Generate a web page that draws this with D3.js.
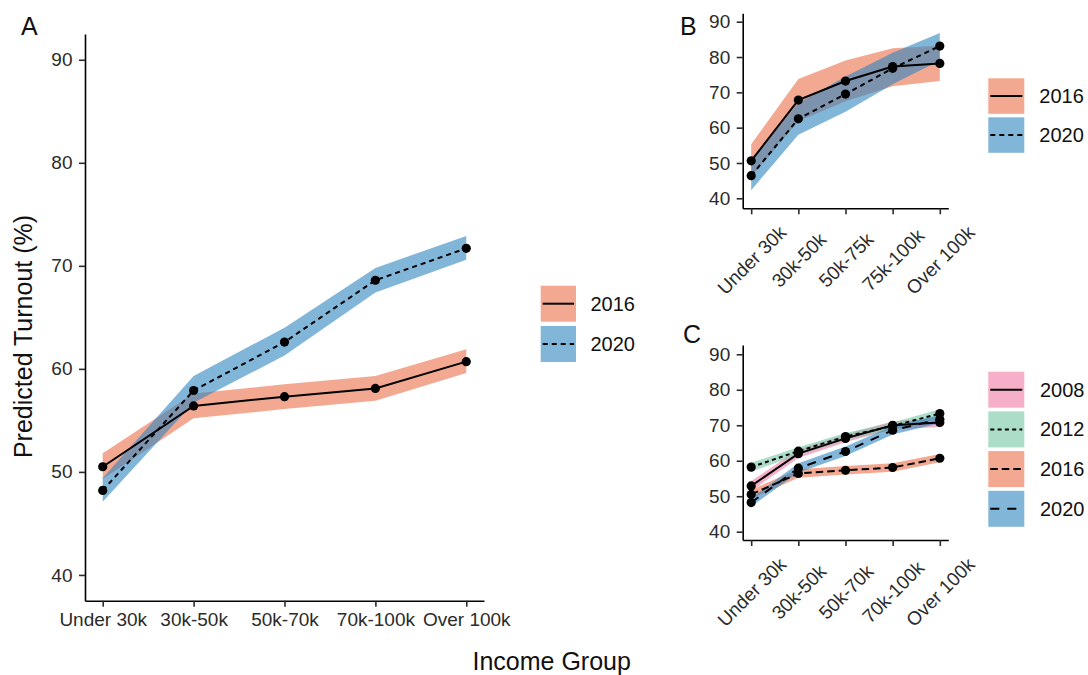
<!DOCTYPE html>
<html><head><meta charset="utf-8">
<script src="https://cdn.jsdelivr.net/npm/d3@7"></script>
<style>
body{margin:0;background:#fff;}
svg{display:block;font-family:"Liberation Sans",Arial,Helvetica,sans-serif;}
</style></head><body>
<svg id="chart" width="1088" height="675"></svg>
<script>
// ---------------- DATA ----------------
const incomeA = ["Under 30k","30k-50k","50k-70k","70k-100k","Over 100k"];
const incomeB = ["Under 30k","30k-50k","50k-75k","75k-100k","Over 100k"];
const yTicks = [40,50,60,70,80,90];
const yearsAB = ["2016","2020"];
const yearsC = ["2008","2012","2016","2020"];

// Panel A (also reused for 2016 / 2020 in panel C)
const a2016   = [50.5,56.4,57.3,58.1,60.7];
const a2016Lo = [49.3,55.2,56.1,56.9,59.6];
const a2016Hi = [51.8,57.6,58.5,59.3,61.9];
const a2020   = [48.2,57.9,62.6,68.6,71.7];
const a2020Lo = [47.1,56.7,61.3,67.4,70.6];
const a2020Hi = [49.4,59.3,64.0,69.8,72.9];

// Panel B
const b2016   = [50.6,67.8,73.2,77.3,78.2];
const b2016Lo = [46.0,61.8,67.5,71.7,73.2];
const b2016Hi = [55.3,73.8,79.0,82.5,83.2];
const b2020   = [46.4,62.5,69.5,76.8,83.1];
const b2020Lo = [42.3,58.0,64.5,72.3,79.0];
const b2020Hi = [50.5,67.0,74.5,81.2,86.8];

// Panel C (2008, 2012)
const c2008   = [52.9,62.0,66.3,70.0,70.8];
const c2008Lo = [51.5,60.8,65.2,68.9,69.5];
const c2008Hi = [54.3,63.2,67.4,71.1,72.1];
const c2012   = [58.2,62.7,66.8,69.8,73.3];
const c2012Lo = [57.0,61.6,65.8,68.8,72.1];
const c2012Hi = [59.4,63.8,67.8,70.8,74.5];

// ---------------- STYLE ----------------
const colors = {"2008":"#F07AA5","2012":"#74C7A5","2016":"#EB6F47","2020":"#2F86C0"};
const alpha = 0.6;
const dashAB = {"2016":null,"2020":"5,4"};
const dashC = {"2008":null,"2012":"4,3.3","2016":"7.5,4","2020":"9,8"};
const textCol = "#2b2b2b";

const svg = d3.select("#chart");

function drawPanel(opt) {
  const x = d3.scalePoint().domain(opt.cats).range([opt.left, opt.right]).padding(opt.pad);
  const y = d3.scaleLinear().domain(opt.yDomain).range([opt.bottom, opt.top]);
  const g = svg.append("g");

  // axes
  const xa = g.append("g").attr("transform", `translate(0,${opt.bottom})`)
    .call(d3.axisBottom(x).tickSize(6).tickSizeOuter(0).tickPadding(6));
  const ya = g.append("g").attr("transform", `translate(${opt.left},0)`)
    .call(d3.axisLeft(y).tickValues(yTicks).tickSize(6).tickSizeOuter(0).tickPadding(6.5));
  [xa, ya].forEach(a => {
    a.select(".domain").attr("stroke", "#000").attr("stroke-width", 1.6);
    a.selectAll(".tick line").attr("stroke", textCol).attr("stroke-width", 1.6);
    a.selectAll(".tick text").attr("fill", textCol).attr("font-size", 19)
      .attr("font-family", '"Liberation Sans",Arial,sans-serif');
  });
  if (opt.rotate) {
    xa.selectAll(".tick text").attr("y", 0).attr("dy", "0.35em")
      .attr("text-anchor", "middle")
      .attr("transform", `translate(0,${opt.rotOffset}) rotate(-45)`);
  }

  const rows = s => opt.cats.map((c, i) => ({c, v: s.v[i], lo: s.lo[i], hi: s.hi[i]}));
  // ribbons
  opt.series.forEach(s => {
    g.append("path").datum(rows(s))
      .attr("d", d3.area().x(d => x(d.c)).y0(d => y(d.lo)).y1(d => y(d.hi)))
      .attr("fill", colors[s.year]).attr("fill-opacity", alpha);
  });
  // lines
  opt.series.forEach(s => {
    g.append("path").datum(rows(s))
      .attr("d", d3.line().x(d => x(d.c)).y(d => y(d.v)))
      .attr("fill", "none").attr("stroke", "#000").attr("stroke-width", 2)
      .attr("stroke-dasharray", opt.dash[s.year]);
  });
  // points
  opt.series.forEach(s => {
    g.selectAll(null).data(rows(s)).enter().append("circle")
      .attr("cx", d => x(d.c)).attr("cy", d => y(d.v)).attr("r", 4.6).attr("fill", "#000");
  });

  // legend
  const lg = svg.append("g");
  opt.legend.years.forEach((yr, i) => {
    const ky = opt.legend.y0 + i * opt.legend.step;
    lg.append("rect").attr("x", opt.legend.x).attr("y", ky)
      .attr("width", opt.legend.w).attr("height", opt.legend.h)
      .attr("fill", colors[yr]).attr("fill-opacity", alpha);
    lg.append("line").attr("x1", opt.legend.x + 2).attr("x2", opt.legend.x + opt.legend.w - 2)
      .attr("y1", ky + opt.legend.h / 2).attr("y2", ky + opt.legend.h / 2)
      .attr("stroke", "#000").attr("stroke-width", 2).attr("stroke-dasharray", opt.dash[yr]);
    lg.append("text").attr("x", opt.legend.labelX).attr("y", ky + opt.legend.h / 2)
      .attr("dy", "0.35em").attr("font-size", 20).attr("fill", "#111").text(yr);
  });

  // panel letter
  svg.append("text").attr("x", opt.letterX).attr("y", opt.letterY)
    .attr("font-size", 25).attr("fill", "#111").text(opt.letter);
}

drawPanel({
  cats: incomeA, left: 85, right: 484, pad: 0.195, top: 34, bottom: 600.7, yDomain: [37.5, 92.5],
  series: [
    {year: "2016", v: a2016, lo: a2016Lo, hi: a2016Hi},
    {year: "2020", v: a2020, lo: a2020Lo, hi: a2020Hi}
  ],
  dash: dashAB, rotate: false,
  legend: {years: yearsAB, x: 540.7, y0: 285.7, step: 40.3, w: 35.3, h: 36, labelX: 590.5},
  letter: "A", letterX: 21, letterY: 35
});

drawPanel({
  cats: incomeB, left: 742.7, right: 948.3, pad: 0.18, top: 13.3, bottom: 208.3, yDomain: [37.17, 92.38],
  series: [
    {year: "2016", v: b2016, lo: b2016Lo, hi: b2016Hi},
    {year: "2020", v: b2020, lo: b2020Lo, hi: b2020Hi}
  ],
  dash: dashAB, rotate: true, rotOffset: 51.7,
  legend: {years: yearsAB, x: 988.3, y0: 78.3, step: 39, w: 36, h: 35.5, labelX: 1039.3},
  letter: "B", letterX: 680, letterY: 35
});

drawPanel({
  cats: incomeA, left: 742.7, right: 948.3, pad: 0.18, top: 345, bottom: 540, yDomain: [37.66, 92.62],
  series: [
    {year: "2008", v: c2008, lo: c2008Lo, hi: c2008Hi},
    {year: "2012", v: c2012, lo: c2012Lo, hi: c2012Hi},
    {year: "2016", v: a2016, lo: a2016Lo, hi: a2016Hi},
    {year: "2020", v: a2020, lo: a2020Lo, hi: a2020Hi}
  ],
  dash: dashC, rotate: true, rotOffset: 52,
  legend: {years: yearsC, x: 988.3, y0: 371.7, step: 39.7, w: 36, h: 36, labelX: 1040},
  letter: "C", letterX: 683, letterY: 342.7
});

// axis titles
svg.append("text").attr("x", 551.7).attr("y", 670).attr("text-anchor", "middle")
  .attr("font-size", 25).attr("fill", "#111").text("Income Group");
svg.append("text").attr("transform", "translate(31.5,336.5) rotate(-90)").attr("text-anchor", "middle")
  .attr("font-size", 25).attr("fill", "#111").text("Predicted Turnout (%)");
</script>
</body></html>
